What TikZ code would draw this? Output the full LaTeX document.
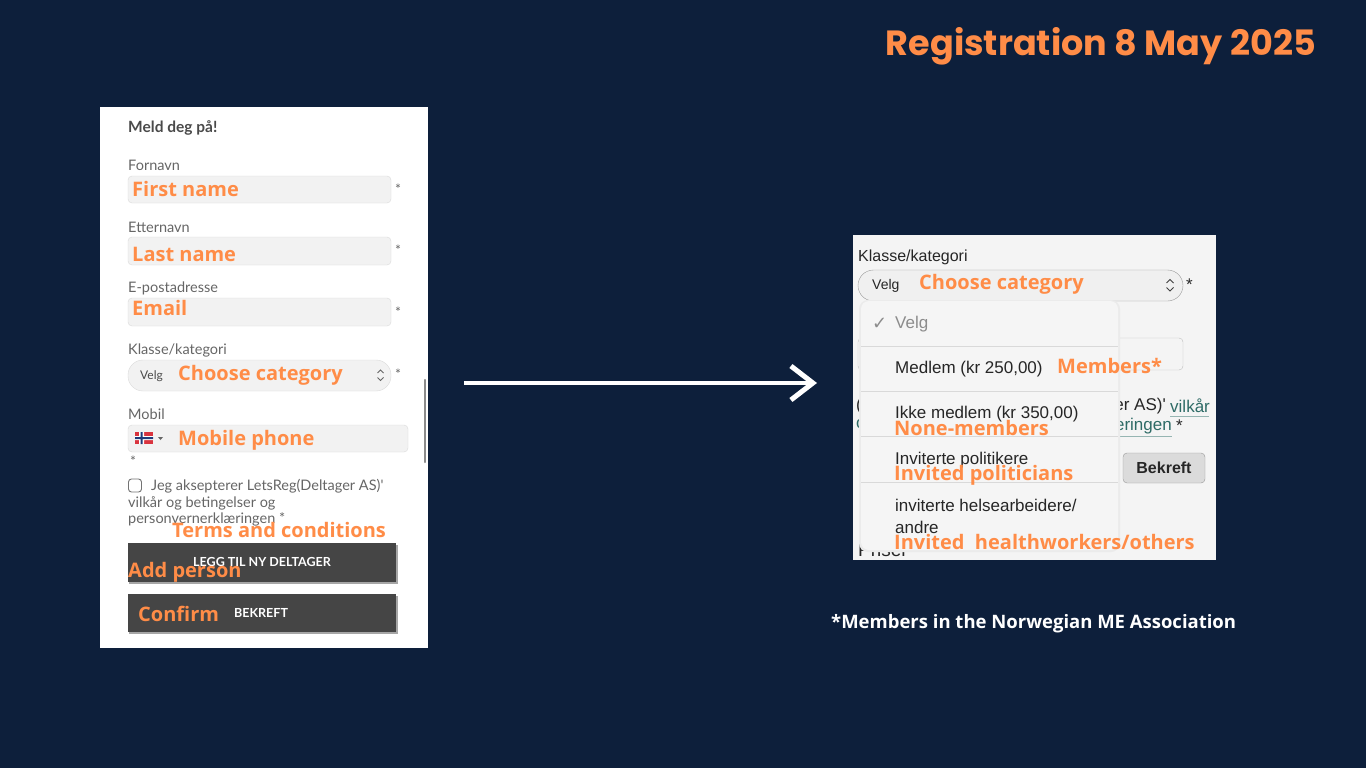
\documentclass[tikz,border=0pt]{standalone}
\usepackage{fontspec}
\setmainfont{Open Sans}
\newfontfamily\titlefont{Poppins}
\newfontfamily\formfont{Lato}
\newfontfamily\iosfont{Liberation Sans}
\newfontfamily\symfont{DejaVu Sans}
\usetikzlibrary{arrows.meta, positioning}

\definecolor{bgnavy}{HTML}{0D1F3B}
\definecolor{noteorange}{HTML}{FF8C47}
\definecolor{formgray}{HTML}{666666}
\definecolor{formdark}{HTML}{4A4A4A}
\definecolor{fieldfill}{HTML}{F2F2F2}
\definecolor{fieldline}{HTML}{DADADA}
\definecolor{btngray}{HTML}{454545}
\definecolor{iosbg}{HTML}{F4F4F4}
\definecolor{dropbg}{HTML}{F5F5F5}
\definecolor{linkteal}{HTML}{2E6B66}
\definecolor{norred}{HTML}{D9343F}
\definecolor{norblue}{HTML}{1F3B7A}

\begin{document}
\begin{tikzpicture}[x=1pt,y=-1pt,
	title/.style={anchor=east,inner sep=0,text=noteorange,font=\titlefont\bfseries\fontsize{35}{40}\selectfont},
	lbl/.style={anchor=west,inner sep=0,text=formgray,font=\formfont\fontsize{14.5}{17}\selectfont},
	note/.style={anchor=west,inner sep=0,text=noteorange,font=\bfseries\fontsize{20}{24}\selectfont},
	star/.style={anchor=west,inner sep=0,text=formgray,font=\formfont\fontsize{14}{16}\selectfont},
	field/.style={draw=fieldline,fill=fieldfill,rounded corners=4pt},
	btntext/.style={inner sep=0,text=white,font=\formfont\bfseries\fontsize{12.5}{15}\selectfont},
	ios/.style={anchor=west,inner sep=0,text=black!85,font=\iosfont\fontsize{17}{20}\selectfont},
	sep/.style={draw=black!15,line width=0.8pt},
	updown/.style={draw=black!60,line width=1pt}]

	\fill[bgnavy] (0,0) rectangle (1366,768);
	\node[title] (title) at (1316,46) {Registration 8 May 2025};

	% left form
	\fill[white] (100,107) rectangle (428,648);
	\node[lbl,text=formdark,font=\formfont\bfseries\fontsize{15.5}{18}\selectfont] (meld) at (128,128) {Meld deg på!};

	\node[lbl] (fornavn) at (128,165) {Fornavn};
	\draw[field] (128,176) rectangle (391,203);
	\node[star] (s1) at (395,189) {*};
	\node[note] (first) at (132,189) {First name};

	\node[lbl] (etternavn) at (128,227) {Etternavn};
	\draw[field] (128,237) rectangle (391,265);
	\node[star] (s2) at (395,250) {*};
	\node[note] (last) at (132,254) {Last name};

	\node[lbl] (epost) at (128,288) {E-postadresse};
	\draw[field] (128,298) rectangle (391,326);
	\node[star] (s3) at (395,312) {*};
	\node[note] (email) at (132,308) {Email};

	\node[lbl] (klasse) at (128,350) {Klasse/kategori};
	\draw[field,rounded corners=15pt] (128,360) rectangle (391,391);
	\node[lbl,text=formdark,font=\formfont\fontsize{12}{14}\selectfont] (velg) at (140,376) {Velg};
	\node[note] (choose) at (178,375) {Choose category};
	\draw[updown] (377.5,373) -- (380.5,370) -- (383.5,373) (377.5,377.5) -- (380.5,380.5) -- (383.5,377.5);
	\node[star] (s4) at (395,374) {*};
	\draw[line width=2.5pt,black!45,line cap=round] (425,380) -- (425,462);

	\node[lbl] (mobil) at (128,414) {Mobil};
	\draw[field] (128,425) rectangle (408,452);
	\fill[norred] (135,432) rectangle (153,444);
	\fill[white] (139,432) rectangle (144,444) (135,436) rectangle (153,440);
	\fill[norblue] (140.5,432) rectangle (142.5,444) (135,437) rectangle (153,439);
	\fill[black!60] (158,437) -- (163,437) -- (160.5,440) -- cycle;
	\node[note] (mobile) at (178,440) {Mobile phone};
	\node[star] (s5) at (130,461) {*};

	\draw[black!55,line width=0.9pt,rounded corners=3pt] (128.5,479) rectangle (141.5,492);
	\node[lbl] (terms1) at (151,486) {Jeg aksepterer LetsReg(Deltager AS)'};
	\node[lbl] (terms2) at (128,503) {vilkår og betingelser og};
	\node[lbl] (terms3) at (128,519) {personvernerklæringen *};
	\node[note] (terms) at (172,530) {Terms and conditions};

	\fill[black!35] (129,545) rectangle (397.5,584);
	\fill[btngray] (128,543) rectangle (396,582);
	\node[btntext] (legg) at (262,562) {LEGG TIL NY DELTAGER};
	\node[note] (add) at (128,572) {Add person};

	\fill[black!35] (129,596) rectangle (397.5,634);
	\fill[btngray] (128,594) rectangle (396,632);
	\node[note] (confirm) at (138,614) {Confirm};
	\node[btntext,anchor=west] (bekreft) at (234,613) {BEKREFT};

	% arrow
	\coordinate (from) at (464,383);
	\coordinate (to) at (817,383);
	\draw[white,line width=4pt,-{Straight Barb[length=22pt,width=34pt,line width=5pt]}] (from) -- (to);

	% right panel
	\begin{scope}
		\clip (853,235) rectangle (1216,560);
		\fill[iosbg] (853,235) rectangle (1216,560);
		\node[ios,font=\iosfont\fontsize{16}{19}\selectfont] (klasse2) at (858,257) {Klasse/kategori};
		\draw[draw=black!40,fill=black!6,rounded corners=15.5pt] (858,270) rectangle (1183,301);
		\node[ios,font=\iosfont\fontsize{14}{17}\selectfont] (velg2) at (872,286) {Velg};
		\draw[updown,black!75] (1166.5,283) -- (1170,279.5) -- (1173.5,283) (1166.5,287.5) -- (1170,291) -- (1173.5,287.5);
		\node[ios] (s6) at (1186,285) {*};

		\node[ios] (mob2) at (858,325) {M};
		\draw[black!25,rounded corners=4pt] (858,338) rectangle (1183,370);
		\node[ios] (par) at (856,406) {(};
		\node[ios,anchor=east] (deltager) at (1166,406) {(Deltager AS)'};
		\node[ios,text=linkteal] (vilkar) at (1170,406) {vilkår};
		\draw[linkteal!50,line width=1pt] (1170,416) -- (1209,416);
		\node[ios,text=linkteal] (og) at (856,426) {og};
		\node[ios,text=linkteal,anchor=east] (eringen) at (1172,426) {personvernerklæringen};
		\draw[linkteal!50,line width=1pt] (1100,436) -- (1172,436);
		\node[ios] (s7) at (1176,426) {*};
		\draw[black!40,fill=black!14,rounded corners=4pt] (1123,453) rectangle (1205,483);
		\node[ios,font=\iosfont\bfseries\fontsize{16}{19}\selectfont,anchor=center] (bek2) at (1164,468) {Bekreft};
		\node[ios,font=\iosfont\fontsize{19}{22}\selectfont] (priser) at (858,550) {Priser};

		% dropdown
		\fill[black!8,rounded corners=9pt] (859,300) rectangle (1120,552);
		\fill[dropbg,rounded corners=8pt] (861,301) rectangle (1118,550);
		\draw[sep] (861,346) -- (1118,346);
		\draw[sep] (861,391) -- (1118,391);
		\draw[sep] (861,436) -- (1118,436);
		\draw[sep] (861,482) -- (1118,482);
		\node[ios,text=black!45,font=\symfont\fontsize{18}{20}\selectfont] (check) at (872,324) {✓};
		\node[ios,text=black!45] (velg3) at (895,324) {Velg};
		\node[ios] (medlem) at (895,369) {Medlem (kr 250,00)};
		\node[ios] (ikke) at (895,414) {Ikke medlem (kr 350,00)};
		\node[ios] (pol) at (895,460) {Inviterte politikere};
		\node[ios] (helse1) at (895,505) {inviterte helsearbeidere/};
		\node[ios] (helse2) at (895,527) {andre};
	\end{scope}

	\node[note] (choose2) at (919,284) {Choose category};
	\node[note] (members) at (1057,366) {Members*};
	\node[note] (none) at (894,428) {None-members};
	\node[note] (invpol) at (894,475) {Invited politicians};
	\node[note] (invhealth) at (894,542) {Invited\ \ healthworkers/others};

	\node[anchor=west,inner sep=0,text=white,font=\bfseries\fontsize{18.5}{22}\selectfont] (foot) at (831,624) {*Members in the Norwegian ME Association};
\end{tikzpicture}
\end{document}
